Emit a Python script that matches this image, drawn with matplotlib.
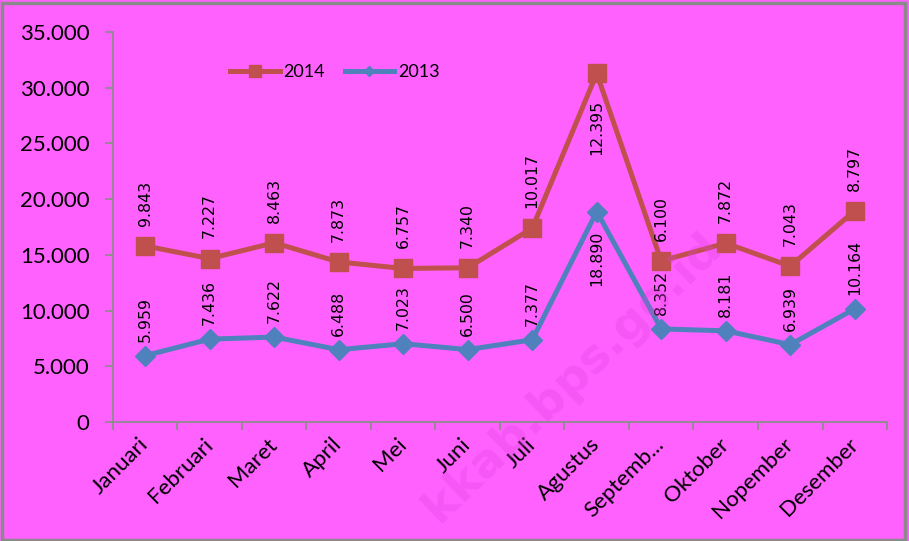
import matplotlib
matplotlib.use("Agg")
import matplotlib.pyplot as plt
from matplotlib.patches import Rectangle
from matplotlib.ticker import FuncFormatter, FixedLocator

months = ["Januari", "Februari", "Maret", "April", "Mei", "Juni", "Juli",
          "Agustus", "Septemb...", "Oktober", "Nopember", "Desember"]
v2013 = [5959, 7436, 7622, 6488, 7023, 6500, 7377, 18890, 8352, 8181, 6939, 10164]
v2014 = [9843, 7227, 8463, 7873, 6757, 7340, 10017, 12395, 6100, 7872, 7043, 8797]
y_ticks = [0, 5000, 10000, 15000, 20000, 25000, 30000, 35000]

BG = "#FF61FF"
RED = "#C0504D"
BLUE = "#4F81BD"
GRID = "#8C8C8C"


def dotted(v):
    return f"{int(v):,}".replace(",", ".")


# stacked line chart: the 2014 line sits on top of 2013
total = [a + b for a, b in zip(v2013, v2014)]
x = list(range(len(months)))

fig = plt.figure(figsize=(9.09, 5.41), dpi=100, facecolor=BG)
ax = fig.add_axes([0.1243, 0.22, 0.8515, 0.7208])
ax.set_facecolor(BG)

ax.plot(x, total, color=RED, lw=3.6, marker="s", ms=13, mec=RED, label="2014", zorder=3)
ax.plot(x, v2013, color=BLUE, lw=3.6, marker="D", ms=10.5, mec=BLUE, label="2013", zorder=4)

lbl = dict(rotation=90, ha="center", fontsize=11.3, family="DejaVu Sans",
           textcoords="offset points", zorder=5)
for i in x:
    if months[i] == "Agustus":
        ax.annotate(dotted(v2014[i]), (i, total[i]), xytext=(0, -19), va="top", **lbl)
        ax.annotate(dotted(v2013[i]), (i, v2013[i]), xytext=(0, -13.5), va="top", **lbl)
    else:
        ax.annotate(dotted(v2014[i]), (i, total[i]), xytext=(0, 14.5), va="bottom", **lbl)
        ax.annotate(dotted(v2013[i]), (i, v2013[i]), xytext=(0, 10), va="bottom", **lbl)

ax.set_xlim(-0.5, len(months) - 0.5)
ax.set_ylim(0, 35000)
ax.set_yticks(y_ticks)
ax.yaxis.set_major_formatter(FuncFormatter(lambda v, p: dotted(v)))
ax.set_xticks(x)
ax.set_xticklabels(months, rotation=45, ha="right", va="center",
                   rotation_mode="anchor", family="Lato", fontsize=16)
ax.xaxis.set_minor_locator(FixedLocator([i - 0.5 for i in range(len(months) + 1)]))
ax.tick_params(axis="x", which="major", length=0, pad=14)
ax.tick_params(axis="x", which="minor", length=6, width=1.3, color=GRID, direction="out")
ax.tick_params(axis="y", length=6, width=1.3, color=GRID, pad=11)
for t in ax.get_yticklabels():
    t.set_family("Lato")
    t.set_fontsize(16)

for s in ["top", "right"]:
    ax.spines[s].set_visible(False)
for s in ["left", "bottom"]:
    ax.spines[s].set_color(GRID)
    ax.spines[s].set_linewidth(1.3)

leg = ax.legend(loc="upper left", bbox_to_anchor=(0.13, 0.96), ncol=2, frameon=False,
                prop={"family": "Lato", "size": 13}, handlelength=2.75,
                handletextpad=0.2, columnspacing=1.1)
for h, ms in zip(leg.legend_handles, [8, 5]):
    h.set_markersize(ms)

# faint watermark
fig.text(572 / 909, 1 - 378 / 541, "kkab.bps.go.id", rotation=44, ha="center", va="center",
         fontsize=34, fontweight="bold", color="#E040E0", alpha=0.3, zorder=0)

fig.patches.append(Rectangle((0.002, 0.002), 0.994, 0.993, transform=fig.transFigure,
                             fill=False, edgecolor="#8A8A8A", lw=2.5))

fig.savefig("out.png", dpi=100, facecolor=BG)
